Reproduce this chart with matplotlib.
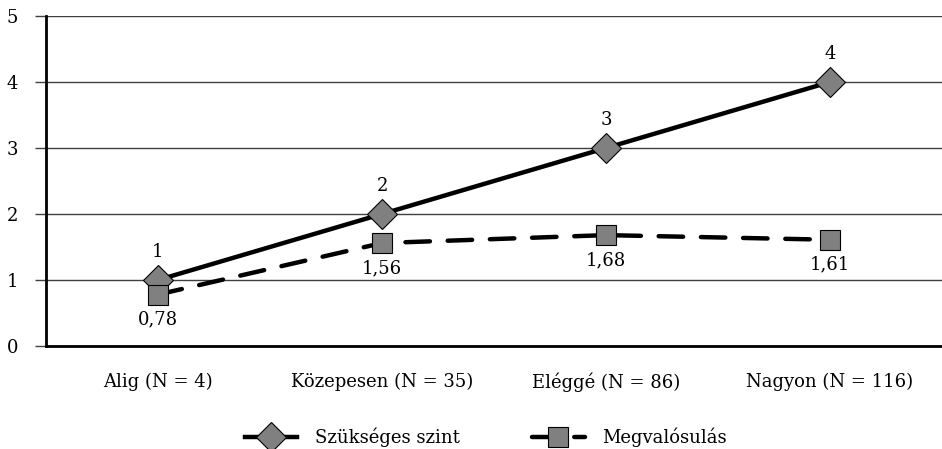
import matplotlib.pyplot as plt

plt.rcParams['font.family'] = ['DejaVu Serif']

categories = ["Alig (N = 4)", "Közepesen (N = 35)", "Eléggé (N = 86)", "Nagyon (N = 116)"]
szukseges = [1, 2, 3, 4]
megvalosulas = [0.78, 1.56, 1.68, 1.61]

def fmt(v):
    return ("%g" % v).replace(".", ",")

fig = plt.figure(figsize=(9.42, 4.49), dpi=100)
ax = fig.add_axes([46 / 942, 103 / 449, 896 / 942, 330 / 449])

x = list(range(len(categories)))

ax.plot(x, szukseges, color="black", linewidth=3.2, marker="D", markersize=15,
        markerfacecolor="#808080", markeredgecolor="black", markeredgewidth=0.8,
        label="Szükséges szint", zorder=3)
ax.plot(x, megvalosulas, color="black", linewidth=3.2, linestyle=(0, (5.5, 4)),
        dash_capstyle="round", marker="s", markersize=14,
        markerfacecolor="#808080", markeredgecolor="black", markeredgewidth=0.8,
        label="Megvalósulás", zorder=3)

fs = 13
for xi, v in zip(x, szukseges):
    ax.annotate(fmt(v), (xi, v), xytext=(0, 20), textcoords="offset points",
                ha="center", va="center", fontsize=fs)
for xi, v in zip(x, megvalosulas):
    ax.annotate(fmt(v), (xi, v), xytext=(0, -18), textcoords="offset points",
                ha="center", va="center", fontsize=fs)

ax.set_xlim(-0.5, len(categories) - 0.5)
ax.set_ylim(0, 5)
ax.set_yticks([0, 1, 2, 3, 4, 5])
ax.set_xticks(x)
ax.set_xticklabels(categories, fontsize=fs)
ax.tick_params(axis="x", length=0, pad=19)
ax.tick_params(axis="y", length=8, width=1, color="#404040", labelsize=fs, pad=12)

ax.grid(axis="y", color="#404040", linewidth=1)
ax.set_axisbelow(True)
for s in ["top", "right"]:
    ax.spines[s].set_visible(False)
ax.spines["left"].set_linewidth(2)
ax.spines["bottom"].set_linewidth(2)

ax.legend(loc="center", bbox_to_anchor=(0.491, -0.276), ncol=2, frameon=False,
          fontsize=fs, handlelength=2.9, handletextpad=1.0, columnspacing=4.0,
          borderpad=0)

fig.savefig("out.png", dpi=100)
